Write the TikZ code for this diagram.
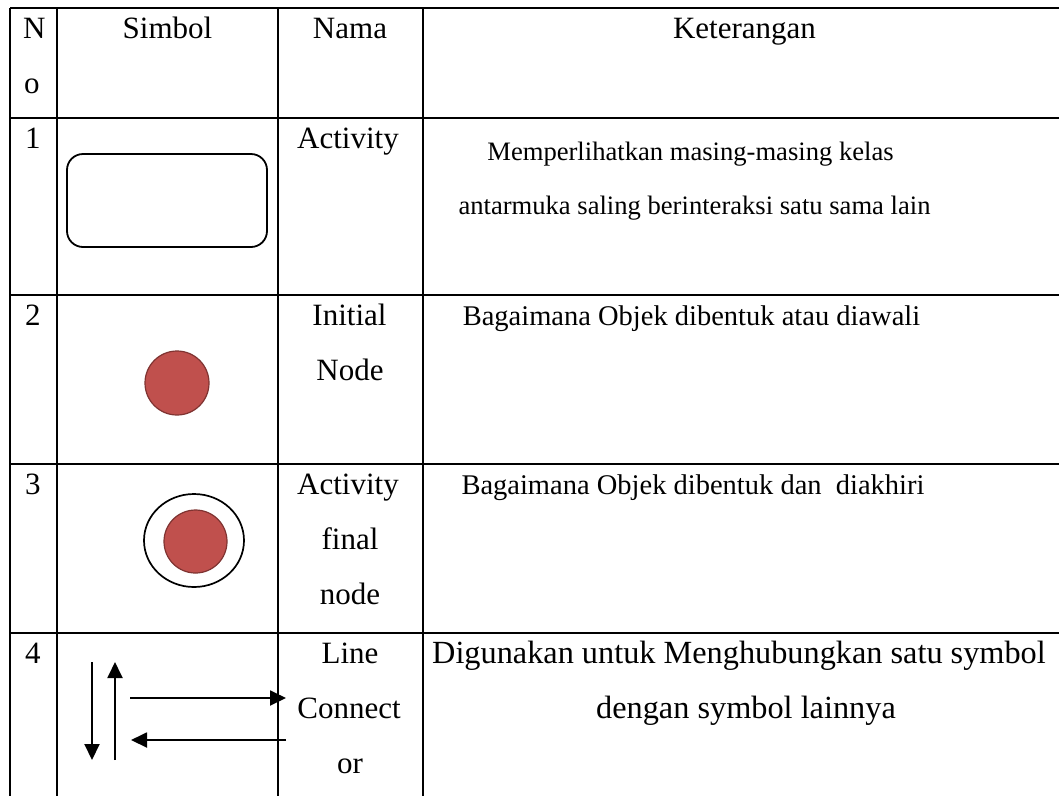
\documentclass[tikz,border=0pt]{standalone}
\usepackage{fontspec}
\setmainfont{Liberation Serif}
\usetikzlibrary{arrows.meta,shapes.geometric}
\definecolor{nodefill}{HTML}{C0504D}
\definecolor{nodeedge}{HTML}{7F3331}
\begin{document}
\begin{tikzpicture}[x=1pt,y=-1pt,
  grid/.style={line width=1.4pt},
  txt/.style={font=\fontsize{31}{37}\selectfont, inner sep=0pt, anchor=base},
  num/.style={txt, anchor=base west},
  descA/.style={font=\fontsize{26.6}{32}\selectfont, inner sep=0pt, anchor=base},
  descB/.style={font=\fontsize{28.5}{34}\selectfont, inner sep=0pt, anchor=base},
  descC/.style={font=\fontsize{32.3}{38}\selectfont, inner sep=0pt, anchor=base},
  conn/.style={line width=1.9pt, -{Triangle[length=16pt,width=15pt]}},
  dot/.style={circle, fill=nodefill, draw=nodeedge, line width=1.2pt, inner sep=0pt, minimum size=64pt}
]
\useasboundingbox (0,0) rectangle (1059,796);
\fill[white] (0,0) rectangle (1059,796);
% grid lines
\foreach \yy in {8,118,295,464,633} \draw[grid] (10,\yy) -- (1059,\yy);
\foreach \xx in {10,57,278,423} \draw[grid] (\xx,8) -- (\xx,796);
% header
\node[num] (hN) at (23,38) {N};
\node[num] (ho) at (24,93) {o};
\node[txt] (hs) at (167.5,38) {Simbol};
\node[txt] (hn) at (350,38) {Nama};
\node[txt] (hk) at (744.5,38) {Keterangan};
% row 1
\node[num] (n1) at (25,148) {1};
\node[draw, rounded corners=16pt, line width=1.8pt, minimum width=200pt, minimum height=93pt] (act) at (167,200.5) {};
\node[txt] (m1) at (348,148) {Activity};
\node[descA] (k1a) at (690.5,160) {Memperlihatkan masing-masing kelas};
\node[descA] (k1b) at (694.5,214) {antarmuka saling berinteraksi satu sama lain};
% row 2
\node[num] (n2) at (25,325) {2};
\node[dot] (init) at (177,383) {};
\node[txt] (m2a) at (349.5,325) {Initial};
\node[txt] (m2b) at (350,380) {Node};
\node[descB] (k2) at (691.5,325) {Bagaimana Objek dibentuk atau diawali};
% row 3
\node[num] (n3) at (25,494) {3};
\node[ellipse, draw, line width=1.7pt, inner sep=0pt, minimum width=100pt, minimum height=93pt] (fin) at (194,540.5) {};
\node[dot, minimum size=63pt] (finin) at (195.5,541.5) {};
\node[txt] (m3a) at (348,494) {Activity};
\node[txt] (m3b) at (350,549) {final};
\node[txt] (m3c) at (350,604) {node};
\node[descB] (k3) at (693,494) {Bagaimana Objek dibentuk dan\ \ diakhiri};
% row 4
\node[num] (n4) at (25,663) {4};
\coordinate (d1) at (92,662);
\coordinate (d2) at (92,760);
\coordinate (u1) at (115,760);
\coordinate (u2) at (115,662);
\coordinate (r1) at (130,698);
\coordinate (r2) at (286,698);
\coordinate (l1) at (286,740);
\coordinate (l2) at (131,740);
\draw[conn] (d1) -- (d2);
\draw[conn] (u1) -- (u2);
\draw[conn] (r1) -- (r2);
\draw[conn] (l1) -- (l2);
\node[txt] (m4a) at (350,663) {Line};
\node[txt] (m4b) at (349,718) {Connect};
\node[txt] (m4c) at (350,773) {or};
\node[descC] (k4a) at (739,663) {Digunakan untuk Menghubungkan satu symbol};
\node[descC] (k4b) at (746,718) {dengan symbol lainnya};
\end{tikzpicture}
\end{document}
